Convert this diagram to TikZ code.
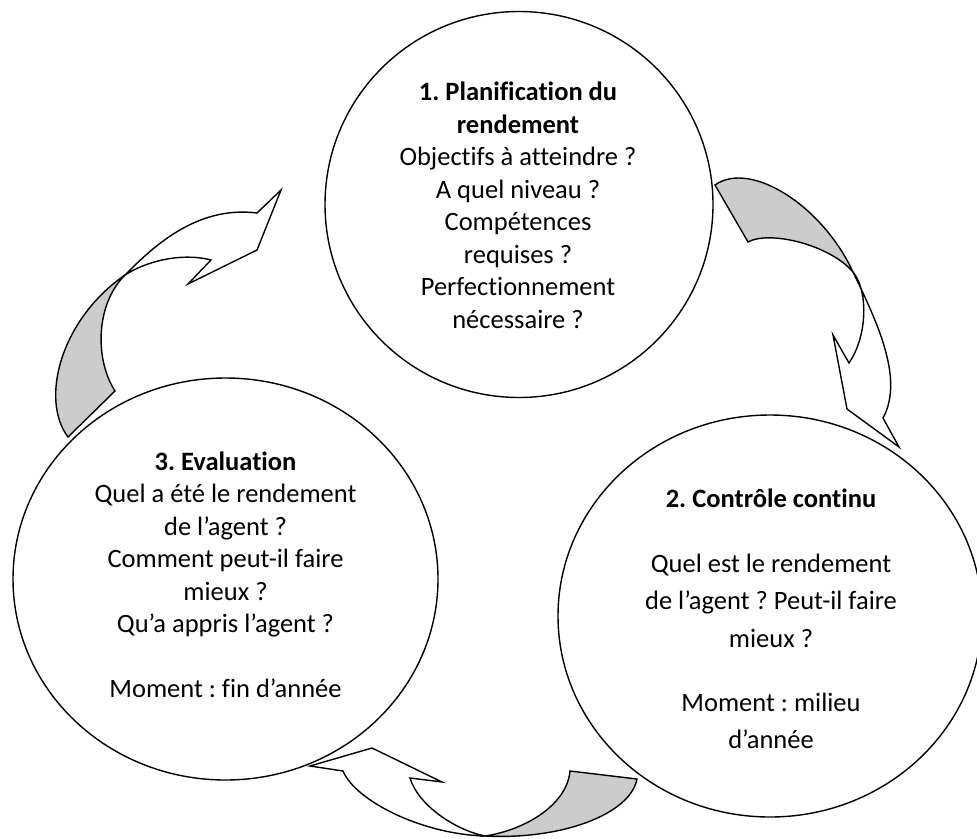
\documentclass[tikz,border=0pt]{standalone}
\usepackage{fontspec}
\setmainfont{Carlito}[Ligatures=NoCommon]
\usetikzlibrary{shapes.geometric}
\definecolor{shade}{HTML}{CCCCCC}
\frenchspacing
\tikzset{
  bubble/.style={draw=black, line width=1.4pt, ellipse, inner sep=0pt},
  ribbon/.style={draw=black, line width=1.4pt, line join=miter},
  txt/.style={anchor=base, inner sep=0pt, font=\fontsize{26.5}{32.5}\selectfont\frenchspacing},
  ttl/.style={txt, font=\fontsize{26.5}{32.5}\selectfont\frenchspacing\bfseries}
}
\begin{document}
\begin{tikzpicture}[x=1pt,y=-1pt]
\useasboundingbox (0,0) rectangle (977,838);

% ---- curved arrow 1 (circle 1 -> circle 2)
\coordinate (x1) at (853,272);
\filldraw[ribbon, fill=shade] (715,185) .. controls (750,160) and (822,205) .. (x1)
  .. controls (830,245) and (770,230) .. (748,242) -- cycle;
\filldraw[ribbon, fill=white] (x1) .. controls (875,318) and (905,378) .. (883,418)
  -- (899,447) -- (847,409) -- (833,335) -- (849,363)
  .. controls (868,335) and (868,290) .. (x1) -- cycle;

% ---- curved arrow 2 (circle 2 -> circle 3)
\coordinate (x2) at (485,836);
\filldraw[ribbon, fill=shade] (570,771) -- (637,779) .. controls (630,815) and (560,840) .. (x2)
  .. controls (525,830) and (567,805) .. (570,771) -- cycle;
\filldraw[ribbon, fill=white] (x2) .. controls (420,834) and (355,800) .. (343,771)
  -- (310,766) -- (372,748) -- (442,782) -- (410,778)
  .. controls (418,805) and (455,830) .. (x2) -- cycle;

% ---- curved arrow 3 (circle 3 -> circle 1)
\coordinate (x3) at (125,275);
\filldraw[ribbon, fill=shade] (68,437) .. controls (40,400) and (60,320) .. (x3)
  .. controls (95,305) and (95,360) .. (115,391) -- cycle;
\filldraw[ribbon, fill=white] (x3) .. controls (150,250) and (195,205) .. (257,213)
  -- (281,190) -- (257,250) -- (188,284) -- (211,260)
  .. controls (180,252) and (145,262) .. (x3) -- cycle;

% ---- circles
\node[bubble, minimum width=388pt, minimum height=386pt] (c1) at (519,204.5) {};
\node[bubble, minimum width=424pt, minimum height=402pt] (c2) at (770,616) {};
\node[bubble, minimum width=425pt, minimum height=402pt] (c3) at (225.5,579) {};

% ---- texts circle 1
\node[ttl] (t1a) at (518,100.5) {1. Planification du};
\node[ttl] (t1b) at (518,133) {rendement};
\node[txt] (t1c) at (518,165.5) {Objectifs à atteindre ?};
\node[txt] (t1d) at (518,198) {A quel niveau ?};
\node[txt] (t1e) at (518,230.5) {Compétences};
\node[txt] (t1f) at (518,263) {requises ?};
\node[txt] (t1g) at (518,295.5) {Perfectionnement};
\node[txt] (t1h) at (518,328) {nécessaire ?};

% ---- texts circle 2
\node[ttl] (t2a) at (771,507) {2. Contrôle continu};
\node[txt] (t2b) at (771,572) {Quel est le rendement};
\node[txt] (t2c) at (771,609.5) {de l’agent ? Peut-il faire};
\node[txt] (t2d) at (771,647) {mieux ?};
\node[txt] (t2e) at (771,711) {Moment : milieu};
\node[txt] (t2f) at (771,748.5) {d’année};

% ---- texts circle 3
\node[ttl] (t3a) at (225.5,470) {3. Evaluation};
\node[txt] (t3b) at (225.5,502.5) {Quel a été le rendement};
\node[txt] (t3c) at (225.5,535) {de l’agent ?};
\node[txt] (t3d) at (225.5,567.5) {Comment peut-il faire};
\node[txt] (t3e) at (225.5,600) {mieux ?};
\node[txt] (t3f) at (225.5,632.5) {Qu’a appris l’agent ?};
\node[txt] (t3g) at (225.5,697.5) {Moment : fin d’année};
\end{tikzpicture}
\end{document}
